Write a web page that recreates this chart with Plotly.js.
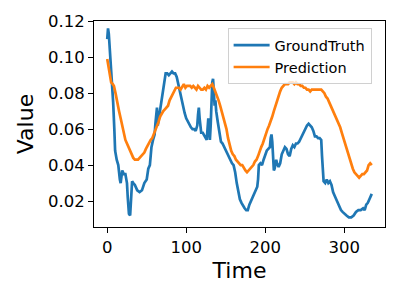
<!DOCTYPE html>
<html>
<head>
<meta charset="utf-8">
<script src="https://cdn.plot.ly/plotly-3.0.1.min.js"></script>
<style>html,body{margin:0;padding:0;background:#fff;}#chart{width:400px;height:300px;}</style>
</head>
<body>
<div id="chart"></div>
<script>
// Ground truth series (time, value)
const gtTime = [0,1,2,4,6,7.5,9,10,12,14,16,17,19,21,23,25,26,27.5,29,30,31.5,33,35,38,41,44,47,50,52,54,56,58,60,61,62,63,64,65,67,69,71,72.5,74,76,78,80,82,84,86,88,90,92,94,96,98,100,102,104,106,108,110,112,114,115,116,117,118,119,121,123,125,126,127,128,129,130,131,132,133,134,135,136,137,138,140,142,144,146,148,150,152,154,156,158,160,162,164,166,168,170,172,174,176,178,180,182,185,188,190,191,192,194,196,198,200,202,204,206,207,208,209,210,211,212,214,215,217,219,221,223,225,227,229,231,233,235,237,239,241,243,245,247,249,251,253,255,257,259,261,263,265,267,269,271,272,273,274,276,278,280,282,284,286,288,290,292,294,296,298,300,303,306,309,312,315,318,321,324,326,328,330,332,335];
const gtValue = [0.110,0.116,0.113,0.100,0.085,0.075,0.060,0.048,0.043,0.040,0.032,0.030,0.037,0.035,0.035,0.030,0.022,0.013,0.012,0.020,0.031,0.030,0.029,0.026,0.025,0.026,0.030,0.032,0.038,0.040,0.050,0.054,0.057,0.063,0.070,0.072,0.062,0.065,0.071,0.078,0.083,0.088,0.091,0.091,0.090,0.091,0.092,0.091,0.091,0.089,0.085,0.080,0.076,0.072,0.069,0.066,0.064,0.062,0.061,0.060,0.060,0.059,0.062,0.068,0.072,0.066,0.062,0.058,0.058,0.056,0.055,0.054,0.060,0.066,0.060,0.054,0.062,0.079,0.086,0.088,0.080,0.073,0.076,0.070,0.064,0.058,0.053,0.052,0.050,0.049,0.047,0.045,0.043,0.041,0.040,0.036,0.030,0.026,0.021,0.019,0.017,0.016,0.015,0.015,0.018,0.020,0.022,0.025,0.028,0.032,0.040,0.041,0.040,0.043,0.046,0.048,0.049,0.050,0.055,0.057,0.053,0.040,0.037,0.038,0.043,0.041,0.039,0.041,0.046,0.048,0.050,0.049,0.046,0.045,0.049,0.051,0.050,0.052,0.052,0.053,0.055,0.057,0.059,0.060,0.062,0.063,0.062,0.061,0.059,0.056,0.056,0.055,0.055,0.054,0.045,0.036,0.031,0.030,0.032,0.030,0.031,0.029,0.025,0.023,0.021,0.019,0.016,0.015,0.014,0.013,0.012,0.011,0.011,0.012,0.014,0.015,0.015,0.016,0.015,0.018,0.019,0.021,0.024];

// Prediction series (time, value)
const predTime = [0,2,4,5,7,8.5,10.5,12,13.5,15,17,19,21,23,25,27,29,31,33,35,37,39,41,43,45,47,49,51,53,55,57,59,61,63,65,67,69,71,73,75,77,79,81,83,85,87,89,91,93,95,97,99,101,103,105,107,109,111,113,115,117,119,121,123,125,127,129,131,133,135,137,139,141,143,145,147,149,151,153,155,157,159,161,163,165,167,169,171,173,175,177,179,181,183,185,187,189,191,193,195,197,199,201,203,205,207,209,211,213,215,217,219,221,223,225,227,229,231,233,235,237,239,241,243,245,247,249,251,253,255,257,259,261,263,265,267,269,271,273,275,277,279,281,283,285,287,289,291,293,295,297,299,301,303,305,307,309,311,313,315,317,319,321,323,325,327,329,331,333,335];
const predValue = [0.099,0.094,0.090,0.086,0.085,0.084,0.080,0.076,0.073,0.070,0.066,0.062,0.058,0.054,0.052,0.050,0.048,0.045,0.044,0.043,0.043,0.043,0.044,0.045,0.046,0.047,0.049,0.051,0.052,0.054,0.055,0.057,0.059,0.061,0.064,0.067,0.069,0.070,0.071,0.072,0.073,0.076,0.078,0.080,0.082,0.083,0.083,0.083,0.082,0.084,0.085,0.083,0.084,0.084,0.084,0.083,0.084,0.083,0.082,0.084,0.083,0.082,0.082,0.083,0.082,0.084,0.083,0.084,0.085,0.083,0.081,0.079,0.076,0.073,0.070,0.067,0.064,0.060,0.055,0.051,0.048,0.046,0.045,0.043,0.042,0.041,0.040,0.040,0.038,0.037,0.036,0.037,0.038,0.039,0.040,0.042,0.043,0.045,0.048,0.050,0.052,0.055,0.057,0.060,0.062,0.064,0.067,0.070,0.073,0.076,0.079,0.081,0.083,0.084,0.085,0.085,0.085,0.086,0.086,0.086,0.085,0.086,0.085,0.085,0.084,0.084,0.083,0.083,0.082,0.082,0.081,0.082,0.082,0.082,0.082,0.082,0.082,0.082,0.081,0.080,0.078,0.077,0.075,0.073,0.071,0.070,0.068,0.066,0.064,0.061,0.058,0.055,0.052,0.049,0.047,0.044,0.040,0.038,0.036,0.035,0.034,0.033,0.034,0.035,0.035,0.036,0.037,0.040,0.041,0.040];

const xTicks = [0,100,200,300];
const yTicks = [0.02,0.04,0.06,0.08,0.10,0.12];
const xTickLabels = ['0','100','200','300'];
const yTickLabels = ['0.02','0.04','0.06','0.08','0.10','0.12'];

const traces = [
  {x: gtTime, y: gtValue, type: 'scatter', mode: 'lines', name: 'GroundTruth',
   line: {color: '#1f77b4', width: 2.7}},
  {x: predTime, y: predValue, type: 'scatter', mode: 'lines', name: 'Prediction',
   line: {color: '#ff7f0e', width: 2.7}}
];

const axisCommon = {
  showline: true, mirror: true, linecolor: '#000', linewidth: 1,
  ticks: 'outside', ticklen: 5, tickwidth: 1, tickcolor: '#000',
  showgrid: false, zeroline: false,
  tickfont: {family: 'DejaVu Sans', size: 16.5, color: '#000'}
};

const layout = {
  width: 400, height: 300,
  margin: {l: 94, r: 15, t: 21, b: 73},
  paper_bgcolor: '#fff', plot_bgcolor: '#fff',
  font: {family: 'DejaVu Sans', color: '#000'},
  showlegend: true,
  legend: {
    x: 0.954, y: 0.965, xanchor: 'right', yanchor: 'top',
    bgcolor: 'rgba(255,255,255,0.8)', bordercolor: '#d0d0d0', borderwidth: 1,
    font: {family: 'DejaVu Sans', size: 14.5, color: '#000'},
    itemwidth: 36, tracegroupgap: 0
  },
  xaxis: Object.assign({}, axisCommon, {
    range: [-16.75, 351.75],
    tickvals: xTicks, ticktext: xTickLabels,
    title: {text: 'Time', font: {family: 'DejaVu Sans', size: 22, color: '#000'}, standoff: 6}
  }),
  yaxis: Object.assign({}, axisCommon, {
    range: [0.0056, 0.1201],
    tickvals: yTicks, ticktext: yTickLabels,
    title: {text: 'Value', font: {family: 'DejaVu Sans', size: 22, color: '#000'}, standoff: 8}
  })
};

Plotly.newPlot('chart', traces, layout, {displayModeBar: false, staticPlot: true});
</script>
</body>
</html>
